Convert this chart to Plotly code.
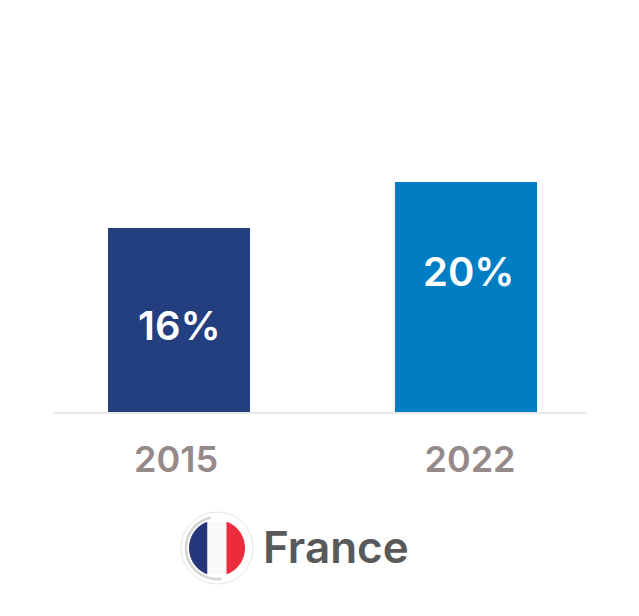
import math
import plotly.graph_objects as go

years = ["2015", "2022"]
shares = [16, 20]
share_labels = ["16%", "20%"]
label_heights = [7.5, 12.2]
bar_colors = ["#243f80", "#007dc3"]
country = "France"

W, H = 639, 616
L, R, B = 53, 587, 412
FONT = "Inter"

def px(x):
    return (x - L) / (R - L)

def py(y):
    return 1 - y / B

def circle(cx, cy, r, **kw):
    return dict(type="circle", xref="paper", yref="paper",
                x0=px(cx - r), x1=px(cx + r), y0=py(cy + r), y1=py(cy - r), **kw)

def region(points, fill):
    d = "M " + " L ".join(f"{px(x):.5f},{py(y):.5f}" for x, y in points) + " Z"
    return dict(type="path", xref="paper", yref="paper", path=d,
                fillcolor=fill, line=dict(width=0))

cx, cy, r = 217, 548, 28
s = 9.5
a = math.degrees(math.asin(s / r))

def arc(start, end, n=30):
    return [(cx + r * math.sin(math.radians(start + (end - start) * i / n)),
             cy - r * math.cos(math.radians(start + (end - start) * i / n))) for i in range(n + 1)]

grey_arc = "M " + " L ".join(
    f"{px(cx + 31 * math.sin(math.radians(t))):.5f},{py(cy - 31 * math.cos(math.radians(t))):.5f}"
    for t in range(172, 350, 4))

fig = go.Figure(go.Bar(x=[0, 1], y=shares, width=0.495, marker=dict(color=bar_colors, line=dict(width=0))))

h = r * math.cos(math.radians(a))
shapes = [
    circle(cx, cy, 36, line=dict(color="#e6e6e6", width=1), fillcolor="#ffffff"),
    dict(type="path", xref="paper", yref="paper", path=grey_arc, line=dict(color="#d4d4d4", width=2.5)),
    region(arc(-a, -180 + a), "#24357a"),
    region([(cx - s, cy - h), (cx + s, cy - h), (cx + s, cy + h), (cx - s, cy + h)], "#fafafa"),
    region(arc(a, 180 - a), "#ea2c3c"),
]

annotations = [
    dict(x=i, y=v, xref="x", yref="y", text=t, showarrow=False, xshift=[0, 2][i],
         font=dict(family=FONT, size=40, color="#ffffff", weight=600))
    for i, (t, v) in enumerate(zip(share_labels, label_heights))
]
annotations.append(dict(x=px(261), y=py(547), xref="paper", yref="paper", xanchor="left", yanchor="middle",
                        text=country, showarrow=False, font=dict(family=FONT, size=44, color="#58595b", weight=600)))

fig.update_layout(
    width=W, height=H, margin=dict(l=L, r=W - R, t=0, b=H - B, autoexpand=False),
    paper_bgcolor="#ffffff", plot_bgcolor="#ffffff", showlegend=False,
    shapes=shapes, annotations=annotations,
    xaxis=dict(range=[(L - 179) / 287, (R - 179) / 287], tickvals=[-0.01, 1.014], ticktext=years,
               showgrid=False, zeroline=False, showline=True, linecolor="#e8e8e8", linewidth=2,
               ticks="", ticklabelstandoff=15,
               tickfont=dict(family=FONT, size=36, color="#96898a", weight=600)),
    yaxis=dict(range=[0, B / 11.5], visible=False),
)
fig.write_html("out.html", config=dict(displayModeBar=False), post_script="document.body.style.margin='0';")
